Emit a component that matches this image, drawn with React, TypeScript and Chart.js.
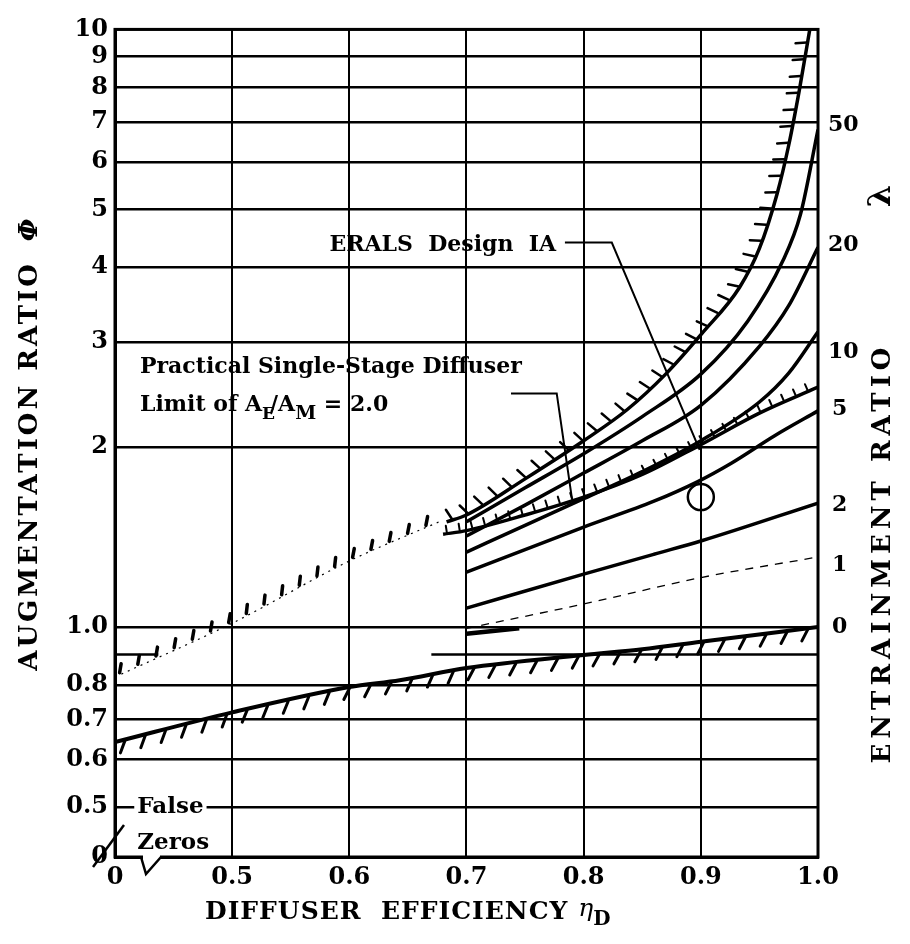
import React, { useEffect, useRef } from "react";
import { Chart, registerables } from "chart.js";
Chart.register(...registerables);

// ---------- axes ----------
const Y_MIN = 0.4124;
const Y_MAX = 10;
const xTickValues = [0.4, 0.5, 0.6, 0.7, 0.8, 0.9, 1.0];
const xTickLabels = ["0", "0.5", "0.6", "0.7", "0.8", "0.9", "1.0"];
const yTickValues = [Y_MIN, 0.5, 0.6, 0.7, 0.8, 0.9, 1, 2, 3, 4, 5, 6, 7, 8, 9, 10];
const yTickLabels = ["0", "0.5", "0.6", "0.7", "0.8", "", "1.0", "2", "3", "4", "5", "6", "7", "8", "9", "10"];

// ---------- curves (eta_D , Phi) ----------
const etaUpper = [0.683, 0.7, 0.75, 0.8, 0.837, 0.87, 0.901, 0.933, 0.95, 0.965, 0.975, 0.984, 0.993];
const phiUpper = [1.5, 1.54, 1.77, 2.05, 2.31, 2.65, 3.1, 3.7, 4.3, 5.3, 6.4, 7.9, 10.0];
const etaUpperDotted = [0.4, 0.5, 0.6, 0.68];
const phiUpperDotted = [0.825, 1.015, 1.29, 1.51];

const etaL50 = [0.7, 0.75, 0.8, 0.85, 0.9, 0.94, 0.97, 0.985, 1.0];
const phiL50 = [1.5, 1.71, 1.95, 2.25, 2.65, 3.25, 4.1, 4.9, 6.8];
const etaL20 = [0.7, 0.75, 0.8, 0.85, 0.9, 0.95, 0.975, 1.0];
const phiL20 = [1.42, 1.6, 1.81, 2.05, 2.35, 2.95, 3.45, 4.32];
const etaL10 = [0.7, 0.75, 0.8, 0.85, 0.9, 0.95, 0.975, 1.0];
const phiL10 = [1.335, 1.48, 1.64, 1.82, 2.05, 2.38, 2.66, 3.12];
const etaL5 = [0.7, 0.8, 0.86, 0.897, 0.926, 0.963, 1.0];
const phiL5 = [1.236, 1.47, 1.624, 1.75, 1.88, 2.09, 2.3];
const etaL2 = [0.7, 0.8, 0.86, 0.9, 1.0];
const phiL2 = [1.076, 1.226, 1.324, 1.393, 1.612];
const etaL1 = [0.7, 0.8, 0.9, 1.0];
const phiL1 = [0.995, 1.093, 1.21, 1.31];
const etaL0 = [0.7, 0.745];
const phiL0 = [0.975, 0.995];

const etaPractical = [0.68, 0.7, 0.75, 0.8, 0.85, 0.9, 0.95, 1.0];
const phiPractical = [1.43, 1.45, 1.54, 1.65, 1.8, 2.02, 2.28, 2.52];

const etaLower = [0.4, 0.5, 0.6, 0.643, 0.7, 0.8, 0.85, 0.9, 1.0];
const phiLower = [0.642, 0.72, 0.794, 0.815, 0.854, 0.898, 0.918, 0.945, 1.0];

// partial 0.9 grid line (false-zero break)
const etaBreakStub = [0.4, 0.437];
const etaBreakLine = [0.67, 1.0];
const phiBreak = 0.9;

// design point
const etaDesign = [0.9];
const phiDesign = [1.65];

// leaders
const etaEralsLeader = [0.784, 0.824, 0.899];
const phiEralsLeader = [4.4, 4.4, 1.98];
const etaPracLeader = [0.738, 0.777, 0.79];
const phiPracLeader = [2.46, 2.46, 1.64];

// right-hand lambda labels
const lambdaLabels = ["50", "20", "10", "5", "2", "1", "0"];
const lambdaLabelPhi = [6.91, 4.36, 2.88, 2.31, 1.6, 1.27, 1.0];

// annotation anchors (eta, phi)
const eralsAnchor = [0.583, 4.36];
const practicalAnchor1 = [0.4213, 2.72];
const practicalAnchor2 = [0.4213, 2.35];
const falseAnchor = [0.419, 0.5];
const zerosAnchor = [0.419, 0.435];

const F = '"DejaVu Serif", serif';

const pts = (xs: number[], ys: number[]) => xs.map((x, i) => ({ x, y: ys[i] }));

const hatchPlugin = {
  id: "hatch",
  afterDatasetsDraw(chart: any) {
    const ctx = chart.ctx;
    chart.data.datasets.forEach((ds: any, i: number) => {
      const h = ds.hatch;
      if (!h) return;
      const meta = chart.getDatasetMeta(i);
      const p = meta.data.map((e: any) => ({ x: e.x, y: e.y }));
      ctx.save();
      ctx.strokeStyle = "#000";
      ctx.lineWidth = h.width;
      ctx.lineCap = "round";
      let acc = h.offset;
      for (let k = 0; k < p.length - 1; k++) {
        const a = p[k], b = p[k + 1];
        const dx = b.x - a.x, dy = b.y - a.y;
        const len = Math.hypot(dx, dy);
        if (!len) continue;
        const ux = dx / len, uy = dy / len;
        const nx = uy * h.side, ny = -ux * h.side;
        const ca = Math.cos(h.angle), sa = Math.sin(h.angle);
        const vx = nx * ca + ux * sa, vy = ny * ca + uy * sa;
        let t = acc;
        while (t < len) {
          const px = a.x + ux * t + nx * h.gap, py = a.y + uy * t + ny * h.gap;
          ctx.beginPath();
          ctx.moveTo(px, py);
          ctx.lineTo(px + vx * h.length, py + vy * h.length);
          ctx.stroke();
          t += h.spacing;
        }
        acc = t - len;
      }
      ctx.restore();
    });
  },
};

const textPlugin = {
  id: "texts",
  afterDraw(chart: any) {
    const ctx = chart.ctx;
    const ca = chart.chartArea;
    const xs = chart.scales.x, ys = chart.scales.y;
    const X = (v: number) => xs.getPixelForValue(v);
    const Y = (v: number) => ys.getPixelForValue(v);
    ctx.save();
    ctx.fillStyle = "#000";
    ctx.strokeStyle = "#000";
    // frame
    ctx.lineWidth = 3;
    ctx.strokeRect(ca.left, ca.top, ca.right - ca.left, ca.bottom - ca.top);

    // x-axis false-zero notch
    ctx.fillStyle = "#fff";
    ctx.fillRect(ca.left + 28, ca.bottom - 3, 17, 6);
    ctx.fillStyle = "#000";
    ctx.lineWidth = 2.5;
    ctx.beginPath();
    ctx.moveTo(ca.left + 26, ca.bottom);
    ctx.lineTo(ca.left + 31, ca.bottom + 17);
    ctx.lineTo(ca.left + 46, ca.bottom);
    ctx.stroke();
    // y zero slash
    ctx.beginPath();
    ctx.moveTo(ca.left - 22, ca.bottom + 10);
    ctx.lineTo(ca.left + 9, ca.bottom - 32);
    ctx.stroke();

    // False / Zeros
    ctx.font = `bold 23px ${F}`;
    ctx.textBaseline = "middle";
    ctx.textAlign = "left";
    const fw = ctx.measureText("False").width;
    ctx.fillStyle = "#fff";
    ctx.fillRect(X(falseAnchor[0]) - 3, Y(falseAnchor[1]) - 13, fw + 6, 26);
    ctx.fillStyle = "#000";
    ctx.fillText("False", X(falseAnchor[0]), Y(falseAnchor[1]));
    ctx.fillText("Zeros", X(zerosAnchor[0]), Y(zerosAnchor[1]));

    // annotations
    ctx.font = `bold 22px ${F}`;
    ctx.fillText("ERALS  Design  IA", X(eralsAnchor[0]), Y(eralsAnchor[1]));
    ctx.fillText("Practical Single-Stage Diffuser", X(practicalAnchor1[0]), Y(practicalAnchor1[1]));
    let lx = X(practicalAnchor2[0]);
    const ly = Y(practicalAnchor2[1]);
    const seg = (s: string, size: number, dy: number) => {
      ctx.font = `bold ${size}px ${F}`;
      ctx.fillText(s, lx, ly + dy);
      lx += ctx.measureText(s).width;
    };
    seg("Limit of A", 22, 0);
    seg("E", 17, 9);
    lx -= 5;
    seg("/A", 22, 0);
    seg("M", 19, 9);
    seg(" = 2.0", 22, 0);

    // lambda labels on right
    ctx.font = `bold 22px ${F}`;
    lambdaLabels.forEach((s, i) => {
      ctx.fillText(s, ca.right + (s.length > 1 ? 10 : 14), Y(lambdaLabelPhi[i]));
    });

    // bottom title
    ctx.font = `bold 25px ${F}`;
    ctx.letterSpacing = "1px";
    let bx = 197;
    const by = 904;
    ctx.fillText("DIFFUSER  EFFICIENCY ", bx, by);
    bx += ctx.measureText("DIFFUSER  EFFICIENCY ").width;
    ctx.letterSpacing = "0px";
    ctx.font = `italic 25px ${F}`;
    ctx.fillText("η", bx, by - 3);
    bx += ctx.measureText("η").width;
    ctx.font = `bold 20px ${F}`;
    ctx.fillText("D", bx, by + 8);

    // left title
    ctx.save();
    ctx.translate(22, 458);
    ctx.rotate(-Math.PI / 2);
    ctx.textAlign = "center";
    ctx.font = `bold 26px ${F}`;
    ctx.letterSpacing = "3px";
    ctx.fillText("AUGMENTATION RATIO", 0, 0);
    ctx.restore();
    ctx.save();
    ctx.translate(22, 222);
    ctx.rotate(-Math.PI / 2);
    ctx.textAlign = "center";
    ctx.font = `bold italic 26px ${F}`;
    ctx.fillText("Φ", 0, 0);
    ctx.restore();

    // right title
    ctx.save();
    ctx.translate(875, 545);
    ctx.rotate(-Math.PI / 2);
    ctx.textAlign = "center";
    ctx.font = `bold 26px ${F}`;
    ctx.letterSpacing = "5px";
    ctx.fillText("ENTRAINMENT RATIO", 0, 0);
    ctx.restore();
    ctx.save();
    ctx.translate(874, 188);
    ctx.rotate(-Math.PI / 2);
    ctx.textAlign = "center";
    ctx.font = `bold 32px ${F}`;
    ctx.fillText("λ", 0, 0);
    ctx.restore();

    ctx.restore();
  },
};

const line = (data: any, extra: any = {}) => ({
  data,
  borderColor: "#000",
  borderWidth: 3.5,
  pointRadius: 0,
  fill: false,
  cubicInterpolationMode: "monotone",
  ...extra,
});

export default function App() {
  const ref = useRef<HTMLCanvasElement>(null);
  useEffect(() => {
    const datasets: any[] = [
      line(pts(etaUpper, phiUpper), {
        hatch: { side: 1, spacing: 17, length: 11, angle: -0.25, width: 2.5, gap: 1, offset: 6 },
      }),
      line(pts(etaUpperDotted, phiUpperDotted), {
        borderWidth: 1.2,
        borderDash: [2, 5],
        hatch: { side: 1, spacing: 20, length: 9, angle: 0.6, width: 3.5, gap: 2, offset: 6 },
      }),
      line(pts(etaL50, phiL50)),
      line(pts(etaL20, phiL20)),
      line(pts(etaL10, phiL10)),
      line(pts(etaPractical, phiPractical), {
        hatch: { side: 1, spacing: 13, length: 7, angle: 0, width: 2, gap: 1, offset: 4 },
      }),
      line(pts(etaL5, phiL5)),
      line(pts(etaL2, phiL2)),
      line(pts(etaL1, phiL1), { borderWidth: 1.3, borderDash: [8, 7] }),
      line(pts(etaL0, phiL0), { borderWidth: 4.5 }),
      line(pts(etaLower, phiLower), {
        borderWidth: 4,
        hatch: { side: -1, spacing: 21, length: 13, angle: -0.6, width: 3, gap: 1, offset: 10 },
      }),
      line(pts(etaBreakStub, [phiBreak, phiBreak]), { borderWidth: 2.5, cubicInterpolationMode: "default" }),
      line(pts(etaBreakLine, [phiBreak, phiBreak]), { borderWidth: 2.5, cubicInterpolationMode: "default" }),
      line(pts(etaEralsLeader, phiEralsLeader), { borderWidth: 2, cubicInterpolationMode: "default" }),
      line(pts(etaPracLeader, phiPracLeader), { borderWidth: 2, cubicInterpolationMode: "default" }),
      {
        data: pts(etaDesign, phiDesign),
        showLine: false,
        pointRadius: 13,
        pointStyle: "circle",
        pointBorderColor: "#000",
        pointBackgroundColor: "rgba(0,0,0,0)",
        pointBorderWidth: 2.5,
      },
    ];
    const chart = new Chart(ref.current as HTMLCanvasElement, {
      type: "line",
      data: { datasets },
      options: {
        animation: false,
        responsive: false,
        devicePixelRatio: 1,
        layout: { padding: { left: 0, top: 21, right: 84, bottom: 0 } },
        plugins: { legend: { display: false }, tooltip: { enabled: false } },
        scales: {
          x: {
            type: "linear",
            min: 0.4,
            max: 1.0,
            afterBuildTicks: (axis: any) => {
              axis.ticks = xTickValues.map((v) => ({ value: v }));
            },
            afterFit: (axis: any) => {
              axis.height = 79;
            },
            ticks: {
              callback: (v: any) => {
                const i = xTickValues.findIndex((t) => Math.abs(t - v) < 1e-6);
                return i >= 0 ? xTickLabels[i] : "";
              },
              font: { family: F, size: 24, weight: "bold" },
              color: "#000",
              padding: 6,
              maxRotation: 0,
              autoSkip: false,
            },
            grid: { color: "#000", lineWidth: 2, drawTicks: false },
            border: { display: true, color: "#000", width: 3 },
          },
          y: {
            type: "logarithmic",
            min: Y_MIN,
            max: Y_MAX,
            afterBuildTicks: (axis: any) => {
              axis.ticks = yTickValues.map((v) => ({ value: v, major: false }));
            },
            afterFit: (axis: any) => {
              axis.width = 107;
            },
            ticks: {
              callback: (v: any) => {
                const i = yTickValues.findIndex((t) => Math.abs(t - v) < 1e-6);
                return i >= 0 ? yTickLabels[i] : "";
              },
              font: { family: F, size: 24, weight: "bold" },
              color: "#000",
              padding: 7,
              autoSkip: false,
            },
            grid: {
              color: (c: any) => (c.tick && Math.abs(c.tick.value - 0.9) < 1e-6 ? "rgba(0,0,0,0)" : "#000"),
              lineWidth: 2.5,
              drawTicks: false,
            },
            border: { display: true, color: "#000", width: 3 },
          },
        },
      },
      plugins: [hatchPlugin, textPlugin],
    } as any);
    return () => chart.destroy();
  }, []);
  return (
    <div style={{ width: 894, height: 928 }}>
      <canvas ref={ref} width={894} height={928} style={{ display: "block" }} />
    </div>
  );
}
